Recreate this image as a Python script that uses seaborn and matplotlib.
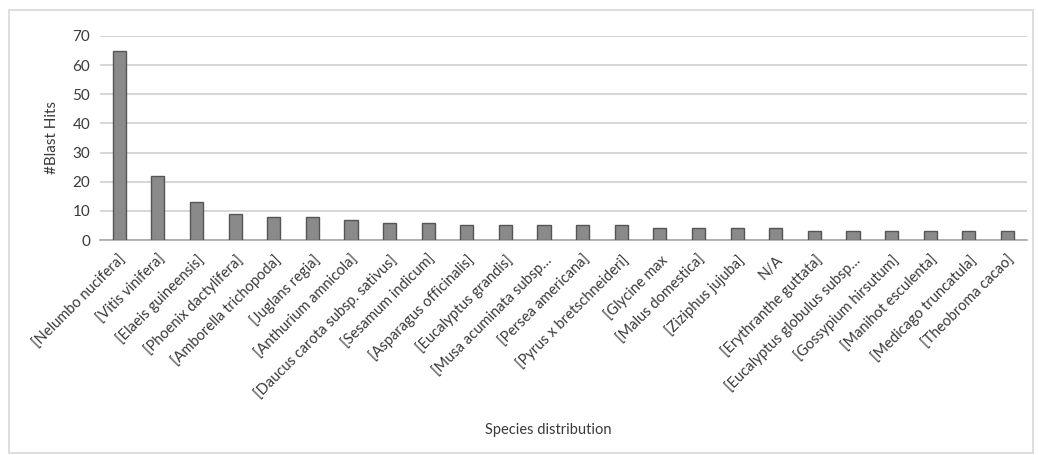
import matplotlib
matplotlib.use("Agg")
import matplotlib.pyplot as plt
import matplotlib.patches as mpatches
import pandas as pd
import seaborn as sns

# data
species = ["[Nelumbo nucifera]", "[Vitis vinifera]", "[Elaeis guineensis]",
           "[Phoenix dactylifera]", "[Amborella trichopoda]", "[Juglans regia]",
           "[Anthurium amnicola]", "[Daucus carota subsp. sativus]", "[Sesamum indicum]",
           "[Asparagus officinalis]", "[Eucalyptus grandis]", "[Musa acuminata subsp\u2026",
           "[Persea americana]", "[Pyrus x bretschneideri]", "[Glycine max",
           "[Malus domestica]", "[Ziziphus jujuba]", "N/A", "[Erythranthe guttata]",
           "[Eucalyptus globulus subsp\u2026", "[Gossypium hirsutum]", "[Manihot esculenta]",
           "[Medicago truncatula]", "[Theobroma cacao]"]
hits = [65, 22, 13, 9, 8, 8, 7, 6, 6, 5, 5, 5, 5, 5, 4, 4, 4, 4, 3, 3, 3, 3, 3, 3]
yticks = [0, 10, 20, 30, 40, 50, 60, 70]

df = pd.DataFrame({"species": species, "hits": hits})

sns.set_style("white")
plt.rcParams['font.family'] = ['Lato', 'DejaVu Sans']
txt = "#3a3a3a"

fig = plt.figure(figsize=(10.39, 4.55), dpi=100)
ax = fig.add_axes([0.0962, 0.4725, 0.892, 0.4485])

sns.barplot(data=df, x="species", y="hits", color="#8a8a8a", width=0.34,
            edgecolor="#555555", linewidth=1, saturation=1, ax=ax, zorder=3)

ax.set_ylim(0, 70)
ax.set_xlim(-0.5, len(species) - 0.5)
ax.set_yticks(yticks)
ax.set_yticklabels([str(t) for t in yticks], fontsize=11, color=txt)
ax.yaxis.grid(True, color="#d0d0d0", linewidth=1.2, zorder=0)
ax.set_axisbelow(True)
for s in ["top", "right", "left"]:
    ax.spines[s].set_visible(False)
ax.spines["bottom"].set_color("#a8a8a8")
ax.spines["bottom"].set_linewidth(1.2)
ax.tick_params(axis="both", length=0, pad=7)

ax.set_xticks(range(len(species)))
ax.set_xticklabels(species, rotation=45, ha="right", rotation_mode="anchor",
                   fontsize=10.5, color=txt)
ax.tick_params(axis="x", pad=9)

ax.set_ylabel("#Blast Hits", fontsize=11, color=txt, labelpad=10)
ax.set_xlabel("")
fig.text(0.528, 0.055, "Species distribution", ha="center", va="center",
         fontsize=10.5, color=txt)

# light frame around the whole chart
frame = mpatches.Rectangle((0.009, 0.005), 0.985, 0.972, transform=fig.transFigure,
                           fill=False, edgecolor="#d8d8d8", linewidth=1.2)
fig.patches.append(frame)

fig.savefig("out.png", dpi=100, facecolor="white")
